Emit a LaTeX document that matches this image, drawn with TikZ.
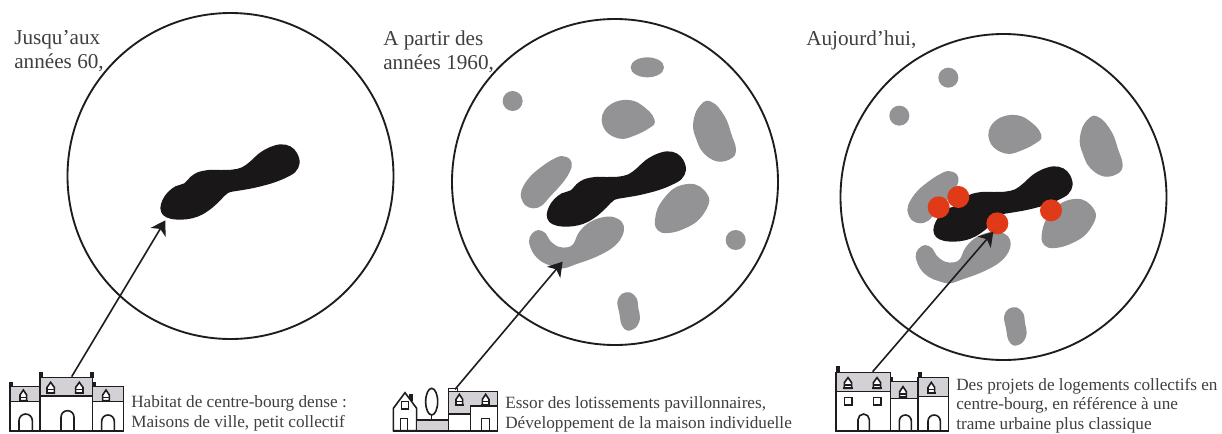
\documentclass[tikz,border=0pt]{standalone}
\usepackage{fontspec}
\setmainfont{Liberation Serif}
\usetikzlibrary{arrows.meta}
\definecolor{blobgray}{HTML}{939295}
\definecolor{blobblack}{HTML}{1A1718}
\definecolor{blobred}{HTML}{E03A18}
\definecolor{roofgray}{HTML}{D3D0D6}
\definecolor{inkline}{HTML}{1E1C1D}
\definecolor{textgray}{HTML}{3F3F3F}
\tikzset{
  ring/.style={draw=inkline,line width=1.4pt,fill=white},
  arrowline/.style={draw=inkline,line width=1.2pt,-{Stealth[length=10.5pt,width=13pt,inset=3pt]}},
  headline/.style={anchor=north west,inner sep=0pt,align=left,text=textgray,font=\fontsize{15.9pt}{18pt}\selectfont},
  captionline/.style={anchor=north west,inner sep=0pt,align=left,text=textgray,font=\fontsize{12.9pt}{15pt}\selectfont},
  hw/.style={draw=inkline,line width=1.2pt,line join=miter},
  roof/.style={hw,fill=roofgray},
  zoomunit/.style={x=0.25pt,y=-0.25pt}
}
% all shapes below are given in 3x-zoomed units
\newcommand{\blackblob}{
  \fill[blobblack] plot[smooth cycle,tension=0.6] coordinates {(200,525)(207,500)(222,478)(245,460)(272,451)(290,432)(312,418)(345,411)(380,411)(415,410)(445,403)(470,385)(495,362)(525,344)(560,334)(590,340)(610,360)(618,390)(605,417)(575,435)(540,449)(505,459)(470,467)(435,473)(403,480)(380,502)(355,525)(325,545)(295,556)(262,560)(230,557)(208,546)};
}
\newcommand{\grayblobs}{
  \fill[blobgray] plot[smooth cycle,tension=0.6] coordinates {(365,240)(373,212)(397,190)(430,180)(465,184)(495,203)(517,225)(524,250)(505,266)(490,275)(460,288)(430,297)(400,290)(375,270)};
  \fill[blobgray] plot[smooth cycle,tension=0.6] coordinates {(640,245)(648,215)(662,195)(680,182)(705,192)(725,215)(742,245)(755,285)(767,320)(765,345)(745,360)(715,365)(685,352)(662,328)(648,295)(640,270)};
  \fill[blobgray] plot[smooth cycle,tension=0.6] coordinates {(122,465)(132,435)(155,405)(185,380)(215,360)(245,348)(270,358)(275,380)(260,412)(238,440)(210,470)(185,497)(160,505)(135,495)};
  \fill[blobgray] plot[smooth cycle,tension=0.6] coordinates {(525,540)(533,505)(552,475)(578,448)(610,434)(645,433)(672,450)(688,480)(675,515)(650,545)(615,565)(580,577)(545,578)(527,562)};
  \fill[blobgray] plot[smooth cycle,tension=0.6] coordinates {(147,605)(155,582)(175,570)(197,580)(210,602)(235,620)(262,622)(280,612)(295,580)(320,553)(355,535)(395,530)(425,545)(432,570)(420,600)(395,625)(360,645)(325,660)(290,672)(250,685)(215,678)(185,665)(160,640)};
  \fill[blobgray] plot[smooth cycle,tension=0.6] coordinates {(412,785)(425,762)(450,757)(470,775)(475,805)(480,835)(468,862)(442,872)(425,855)(418,820)};
}
\newcommand{\dormer}[3]{% x, y of eaves, half width
  \draw[hw,fill=white,line width=1.2pt] ({#1-#3},{#2+17})--({#1-#3},{#2})--(#1,{#2-15})--({#1+#3},{#2})--({#1+#3},{#2+17})--cycle;
  \draw[hw,line width=1.2pt] ({#1-#3},{#2+7})--({#1+#3},{#2+7});
  \draw[hw,line width=1.6pt] ({#1-#3-3},{#2+17})--({#1+#3+3},{#2+17});
}
\newcommand{\archway}[4]{% left, right, top, base
  \draw[hw] (#1,#4)--(#1,{#3+(#2-#1)/2}) arc[start angle=180,delta angle=180,x radius={(#2-#1)/2},y radius={(#2-#1)/2}]--(#2,#4);
}
\begin{document}
\begin{tikzpicture}[x=0.75pt,y=-0.75pt]
\useasboundingbox (0,0) rectangle (1222,433);
\fill[white] (0,0) rectangle (1222,433);

% circles
\node[ring,circle,minimum size=244.5pt,inner sep=0pt] (ringA) at (230.5,176) {};
\node[ring,circle,minimum size=244.5pt,inner sep=0pt] (ringB) at (615,182) {};
\node[ring,circle,minimum size=244.5pt,inner sep=0pt] (ringC) at (1003.5,197) {};

% panel 1
\begin{scope}[shift={(93.67,33)},zoomunit]
  \blackblob
  \coordinate (tipA) at (215,562);
\end{scope}

% panel 2
\begin{scope}[shift={(480,40)},zoomunit]
  \grayblobs
  \fill[blobgray] (502,82) ellipse[x radius=50,y radius=30];
  \fill[blobgray] (98,183) circle[radius=30];
  \fill[blobgray] (767,600) circle[radius=30];
  \blackblob
  \coordinate (tipB) at (248,665);
\end{scope}

% panel 3
\begin{scope}[shift={(866.67,55)},zoomunit]
  \grayblobs
  \blackblob
  \coordinate (tipC) at (380,530);
\end{scope}
\begin{scope}[shift={(820,0)},zoomunit]
  \fill[blobgray] (385,233) circle[radius=30];
  \fill[blobgray] (238,347) circle[radius=30];
  \fill[blobred] (356,622) circle[radius=33];
  \fill[blobred] (415,591) circle[radius=33];
  \fill[blobred] (532,670) circle[radius=33];
  \fill[blobred] (693,631) circle[radius=33];
\end{scope}

% icon 1
\begin{scope}[shift={(0,340)},zoomunit]
  \fill[inkline] (28,125) rectangle (40,140);
  \fill[inkline] (118,97) rectangle (129,113);
  \fill[inkline] (269,97) rectangle (281,113);
  \fill[inkline] (278,125) rectangle (288,140);
  \draw[roof] (30,140) rectangle (120,185);
  \draw[roof] (278,140) rectangle (370,185);
  \draw[roof] (120,113) rectangle (278,168);
  \draw[hw] (30,185)--(30,272);
  \draw[hw] (120,168)--(120,272);
  \draw[hw] (278,168)--(278,272);
  \draw[hw] (370,185)--(370,272);
  \draw[hw,line width=1.4pt] (28,272)--(372,272);
  \dormer{70}{165}{10}
  \dormer{318}{165}{10}
  \dormer{152}{142}{11}
  \dormer{238}{142}{11}
  \archway{57}{97}{222}{272}
  \archway{183}{222}{212}{272}
  \archway{305}{343}{225}{272}
  \coordinate (baseA) at (215,110);
\end{scope}

% icon 2
\begin{scope}[shift={(380,340)},zoomunit]
  \fill[inkline] (88,163) rectangle (98,182);
  \draw[hw,fill=white] (40,272)--(40,205)--(75,158)--(110,205)--(110,272)--cycle;
  \draw[hw] (65,185) rectangle (85,207);
  \draw[hw] (62,272)--(62,235)--(82,235)--(82,272);
  \draw[hw] (155,185) ellipse[x radius=18,y radius=40];
  \draw[hw] (155,225)--(155,240);
  \draw[roof] (110,240) rectangle (205,272);
  \draw[hw] (205,145) rectangle (232,155);
  \draw[roof] (205,155) rectangle (353,272);
  \draw[hw,fill=white] (205,222) rectangle (272,272);
  \draw[hw,fill=white] (272,198) rectangle (353,272);
  \dormer{238}{178}{10}
  \dormer{317}{178}{10}
  \draw[hw] (305,272)--(305,235)--(328,235)--(328,272);
  \draw[hw,line width=1.4pt] (38,272)--(355,272);
  \coordinate (baseB) at (225,148);
\end{scope}

% icon 3
\begin{scope}[shift={(822,340)},zoomunit]
  \fill[inkline] (42,78) rectangle (53,97);
  \fill[inkline] (203,110) rectangle (213,125);
  \fill[inkline] (288,97) rectangle (300,112);
  \draw[roof] (205,125) rectangle (288,175);
  \draw[roof] (288,112) rectangle (380,170);
  \draw[roof] (42,97) rectangle (205,155);
  \draw[hw] (42,155)--(42,272);
  \draw[hw] (205,155)--(205,272);
  \draw[hw] (288,170)--(288,272);
  \draw[hw] (380,170)--(380,272);
  \draw[hw,line width=1.4pt] (40,272)--(382,272);
  \dormer{78}{128}{11}
  \dormer{165}{128}{11}
  \dormer{243}{155}{10}
  \dormer{328}{142}{10}
  \draw[hw] (68,172) rectangle (90,195);
  \draw[hw] (155,172) rectangle (177,195);
  \archway{108}{142}{222}{272}
  \archway{232}{268}{225}{272}
  \archway{318}{355}{225}{272}
  \coordinate (baseC) at (152,95);
\end{scope}

% arrows
\draw[arrowline] (baseA) -- (tipA);
\draw[arrowline] (baseB) -- (tipB);
\draw[arrowline] (baseC) -- (tipC);

% labels
\node[headline] (headA) at (14,30.5) {Jusqu’aux\\années 60,};
\node[headline] (headB) at (383,30.5) {A partir des\\années 1960,};
\node[headline] (headC) at (806,30.5) {Aujourd’hui,};
\node[captionline] (capA) at (131,395) {Habitat de centre-bourg dense :\\Maisons de ville, petit collectif};
\node[captionline] (capB) at (505,396) {Essor des lotissements pavillonnaires,\\Développement de la maison individuelle};
\node[captionline,font=\fontsize{12.9pt}{14.5pt}\selectfont] (capC) at (956,378) {Des projets de logements collectifs en\\centre-bourg, en référence à une\\trame urbaine plus classique};
\end{tikzpicture}
\end{document}
